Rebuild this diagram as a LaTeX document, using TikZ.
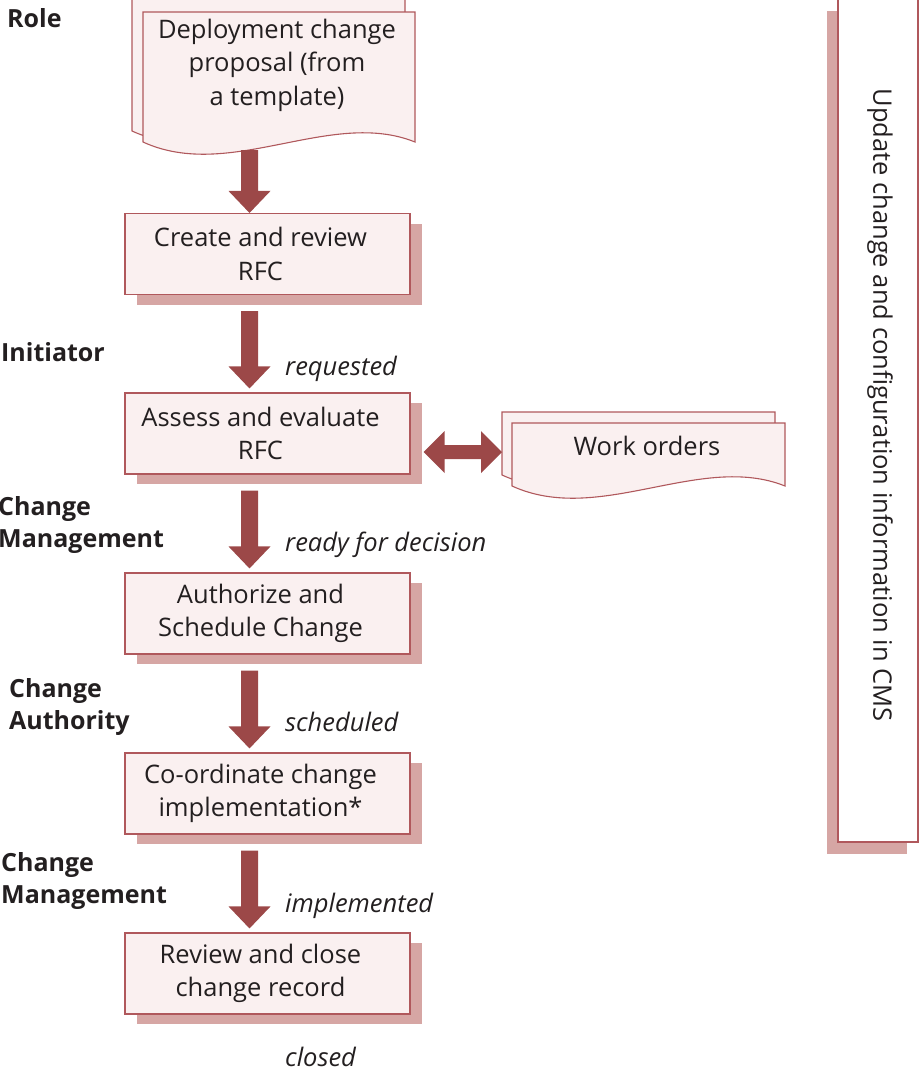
\documentclass[tikz,border=0pt]{standalone}
\usepackage{fontspec}
\setmainfont{Open Sans}
\usetikzlibrary{calc,shadows}
\definecolor{boxfill}{RGB}{250,240,240}
\definecolor{boxline}{RGB}{176,88,92}
\definecolor{shadowc}{RGB}{214,166,164}
\definecolor{arrowc}{RGB}{156,72,72}
\definecolor{textc}{RGB}{35,31,32}
\newcommand\docpath[4]{%
  \draw[docstyle] (#1,#2) -- (#3,#2) -- (#3,#4)
    .. controls ({#3-0.31*(#3-#1)},{#4-34}) and ({#1+0.32*(#3-#1)},{#4+40}) .. (#1,#4) -- cycle;}
\newcommand\varrow[2]{%
  \fill[arrowc] let \p1=#1, \p2=#2 in
    (\x1-8.5pt,\y1) -- (\x1-8.5pt,\y2+22pt) -- (\x1-21pt,\y2+22pt) -- (\x1,\y2)
    -- (\x1+21pt,\y2+22pt) -- (\x1+8.5pt,\y2+22pt) -- (\x1+8.5pt,\y1) -- cycle;}
\begin{document}
\begin{tikzpicture}[x=1pt,y=-1pt,
  font=\fontsize{25.5}{33.5}\selectfont, text=textc,
  docstyle/.style={draw=boxline, fill=boxfill, line width=1.1pt},
  procbox/.style={draw=boxline, fill=boxfill, line width=1.1pt, minimum width=285pt,
    minimum height=81pt, inner sep=0pt,
    general shadow={fill=shadowc, shadow xshift=12pt, shadow yshift=-10pt}},
  proctext/.style={inner sep=0pt, align=center},
  statelbl/.style={anchor=west, inner sep=0pt, font=\fontsize{25.5}{33}\selectfont\itshape},
  rolelbl/.style={anchor=west, inner sep=0pt, align=left, font=\fontsize{25}{32.5}\selectfont\bfseries},
]
\useasboundingbox (0,0) rectangle (920,1072);

% right-hand box
\node[draw=boxline, fill=white, line width=1.1pt, minimum width=80pt, minimum height=843pt, inner sep=0pt,
  general shadow={fill=shadowc, shadow xshift=-11pt, shadow yshift=-12pt}] (cms) at (878,420.5) {};
\node[rotate=-90, inner sep=0pt] (cmstext) at (880,405) {Update change and configuration information in CMS};

% role labels
\node[rolelbl] (rrole) at (7,18) {Role};
\node[rolelbl] (rinit) at (1,352) {Initiator};
\node[rolelbl] (rcm1) at (-2,525) {Change\\Management};
\node[rolelbl] (rca) at (9,707) {Change\\Authority};
\node[rolelbl] (rcm2) at (1,881) {Change\\Management};

% deployment change proposal document
\docpath{132}{-2}{405}{131}
\docpath{143}{12}{415}{142}
\node[align=center, inner sep=0pt] (d1) at (277,65) {Deployment change\\proposal (from\\a template)};
\coordinate (d1b) at (249.5,150);

% process boxes
\node[procbox] (b1) at (267.5,254) {};
\node[procbox] (b2) at (267.5,433.5) {};
\node[procbox] (b3) at (267.5,613.5) {};
\node[procbox] (b4) at (267.5,793.5) {};
\node[procbox] (b5) at (267.5,973.5) {};
\node[proctext] (b1t) at ($(b1.center)+(-7,0)$) {Create and review\\RFC};
\node[proctext] (b2t) at ($(b2.center)+(-7,0)$) {Assess and evaluate\\RFC};
\node[proctext] (b3t) at ($(b3.center)+(-7,0)$) {Authorize and\\Schedule Change};
\node[proctext] (b4t) at ($(b4.center)+(-7,0)$) {Co-ordinate change\\implementation*};
\node[proctext] (b5t) at ($(b5.center)+(-7,0)$) {Review and close\\change record};

% work orders document
\docpath{502}{412}{775}{475}
\docpath{512}{423}{785}{486}
\node[inner sep=0pt] (wo) at (647,446) {Work orders};
\coordinate (wol) at (502,452);

% vertical block arrows
\varrow{(d1b)}{($(b1.north)+(-18,0)$)}
\varrow{($(b1.south)+(-18,16)$)}{($(b2.north)+(-18,-4)$)}
\varrow{($(b2.south)+(-18,16)$)}{($(b3.north)+(-18,-4)$)}
\varrow{($(b3.south)+(-18,16)$)}{($(b4.north)+(-18,-4)$)}
\varrow{($(b4.south)+(-18,16)$)}{($(b5.north)+(-18,-4)$)}

% double arrow
\fill[arrowc] let \p1=($(b2.east)+(13,18.5)$), \p2=(wol) in
  (\x1,\y1) -- (\x1+21pt,\y1+21pt) -- (\x1+21pt,\y1+7pt) -- (\x2-21pt,\y1+7pt)
  -- (\x2-21pt,\y1+21pt) -- (\x2,\y1) -- (\x2-21pt,\y1-21pt) -- (\x2-21pt,\y1-7pt)
  -- (\x1+21pt,\y1-7pt) -- (\x1+21pt,\y1-21pt) -- cycle;

% state labels
\node[statelbl] (s1) at (285,369) {requested};
\node[statelbl] (s2) at (285,545) {ready for decision};
\node[statelbl] (s3) at (285,722) {scheduled};
\node[statelbl] (s4) at (285,906) {implemented};
\node[statelbl] (s5) at (285,1057) {closed};
\end{tikzpicture}
\end{document}
